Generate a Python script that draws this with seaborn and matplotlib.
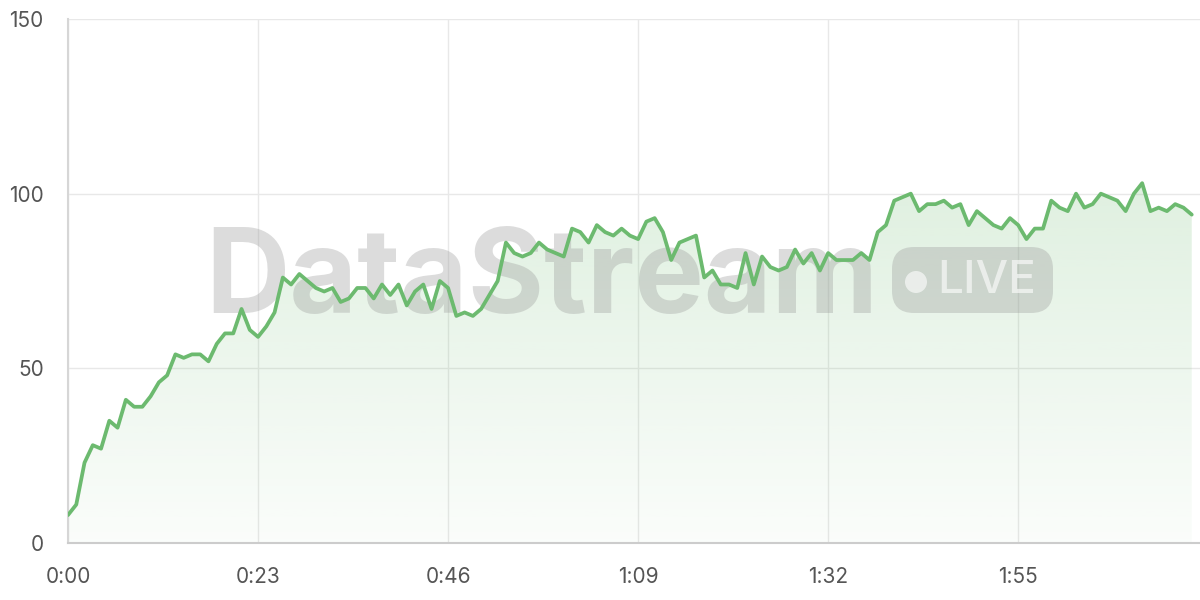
import numpy as np
import pandas as pd
import seaborn as sns
import matplotlib
matplotlib.use("Agg")
import matplotlib.pyplot as plt
from matplotlib.patches import FancyBboxPatch, Circle
from matplotlib.ticker import FuncFormatter

sns.set_theme(style="white")
plt.rcParams['font.family'] = ['Inter', 'DejaVu Sans']

# one sample per second
seconds = list(range(137))
values = [
    8, 11, 23, 28, 27, 35, 33, 41, 39, 39, 42, 46, 48, 54, 53, 54, 54, 52, 57, 60, 60, 67, 61, 59,
    62, 66, 76, 74, 77, 75, 73, 72, 73, 69, 70, 73, 73, 70, 74, 71, 74, 68, 72, 74, 67, 75, 73,
    65, 66, 65, 67, 71, 75, 86, 83, 82, 83, 86, 84, 83, 82, 90, 89, 86, 91, 89, 88, 90, 88, 87,
    92, 93, 89, 81, 86, 87, 88, 76, 78, 74, 74, 73, 83, 74, 82, 79, 78, 79, 84, 80, 83, 78, 83,
    81, 81, 81, 83, 81, 89, 91, 98, 99, 100, 95, 97, 97, 98, 96, 97, 91, 95, 93, 91, 90, 93, 91,
    87, 90, 90, 98, 96, 95, 100, 96, 97, 100, 99, 98, 95, 100, 103, 95, 96, 95, 97, 96, 94,
]
x_ticks = [0, 23, 46, 69, 92, 115]
y_ticks = [0, 50, 100, 150]

df = pd.DataFrame({"t": seconds, "v": values})

line_color = "#6cba6f"
grid_color = "#e8e8e8"

fig = plt.figure(figsize=(12, 6), dpi=100)
ax = fig.add_axes([68 / 1200, 57 / 600, 1132 / 1200, 524 / 600])

# gradient area under the line
poly = ax.fill_between(df["t"], df["v"], 0, facecolor="none", edgecolor="none")
rgb = matplotlib.colors.to_rgb(line_color)
grad = np.zeros((256, 1, 4))
grad[:, 0, :3] = rgb
grad[:, 0, 3] = np.linspace(0.03, 0.30, 256)
img = ax.imshow(grad, extent=[0, 137, 0, 150], aspect="auto", origin="lower", zorder=1)
img.set_clip_path(poly.get_paths()[0], ax.transData)

# watermark (between fill and line)
wm = "#969696"
ax.text(2.05, 2.87, "DataStream", transform=fig.dpi_scale_trans, fontsize=84,
        fontweight="bold", color=wm, alpha=0.33, ha="left", va="baseline", zorder=2)
pill = FancyBboxPatch((8.92, 2.87), 1.61, 0.66, boxstyle="round,pad=0,rounding_size=0.22",
                      transform=fig.dpi_scale_trans, facecolor=wm, edgecolor="none",
                      alpha=0.33, zorder=2)
ax.add_patch(pill)
ax.add_patch(Circle((9.16, 3.18), 0.11, transform=fig.dpi_scale_trans,
                    facecolor="white", edgecolor="none", alpha=0.6, zorder=2.1))
ax.text(9.37, 3.19, "LIVE", transform=fig.dpi_scale_trans, fontsize=33, fontweight="medium",
        color="white", alpha=0.6, ha="left", va="center", zorder=2.1)

sns.lineplot(data=df, x="t", y="v", ax=ax, color=line_color, linewidth=2.7, zorder=3)
for l in ax.lines:
    l.set_solid_joinstyle("round")

ax.set_xlim(0, 137)
ax.set_ylim(0, 150)
ax.set_xticks(x_ticks)
ax.set_yticks(y_ticks)
ax.xaxis.set_major_formatter(FuncFormatter(lambda s, p: f"{int(s) // 60}:{int(s) % 60:02d}"))
ax.set_xlabel("")
ax.set_ylabel("")

ax.grid(True, color=grid_color, linewidth=1)
ax.set_axisbelow(True)
for side in ["top", "right"]:
    ax.spines[side].set_visible(False)
ax.spines["bottom"].set_color("#cccccc")
ax.spines["bottom"].set_linewidth(1.5)
ax.spines["left"].set_color("#d6d6d6")
ax.spines["left"].set_linewidth(1.5)

ax.tick_params(axis="y", length=11, width=1, color=grid_color, pad=6.5,
               labelsize=15, labelcolor="#555555")
ax.tick_params(axis="x", length=7, width=1, color=grid_color, pad=10,
               labelsize=15, labelcolor="#555555")

fig.savefig("out.png", dpi=100)
